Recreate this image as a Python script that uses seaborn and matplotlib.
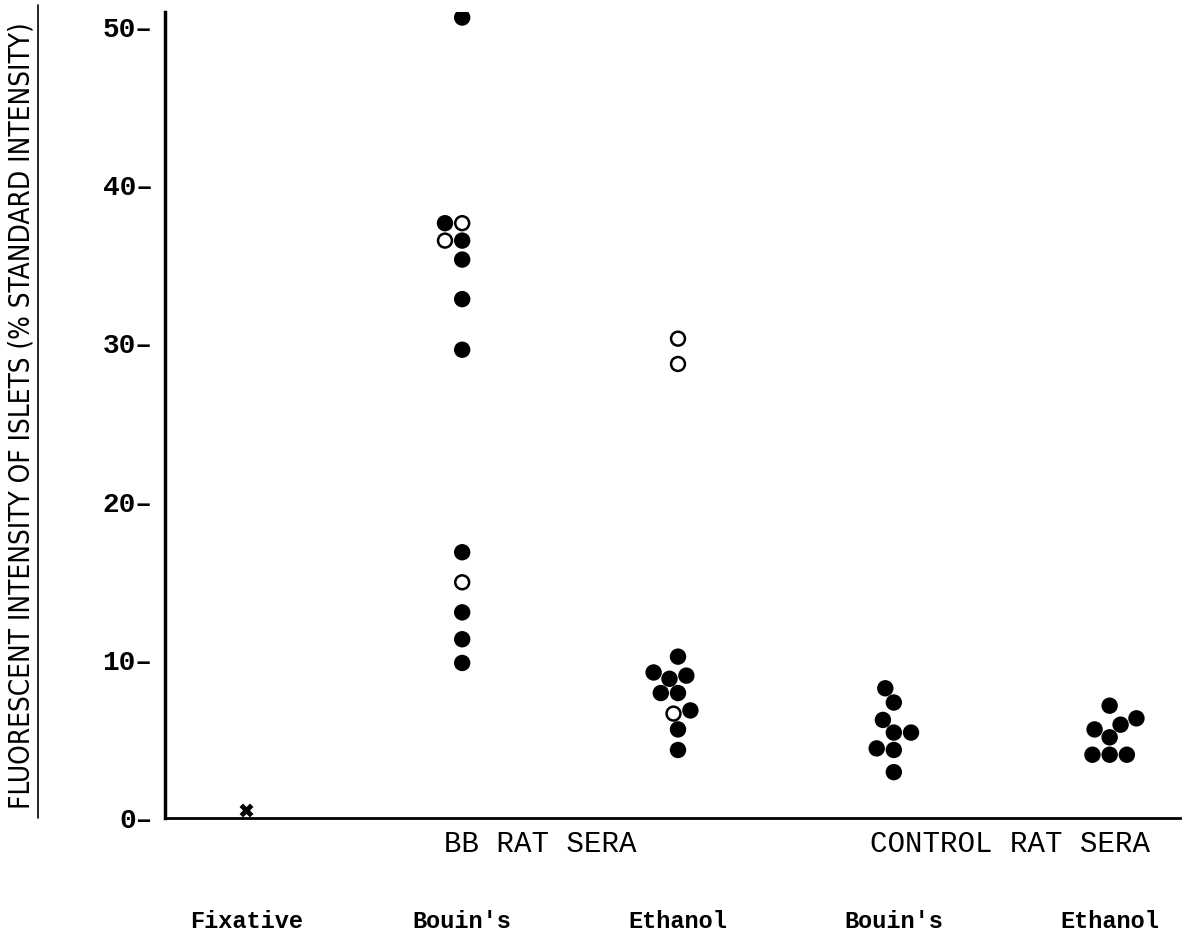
import matplotlib
matplotlib.use("Agg")
import matplotlib.pyplot as plt
from matplotlib.lines import Line2D
import pandas as pd
import seaborn as sns

# categories (unique keys) and what is printed under them
groups = ["Fixative", "BB Bouin's", "BB Ethanol", "Control Bouin's", "Control Ethanol"]
group_labels = ["Fixative", "Bouin's", "Ethanol", "Bouin's", "Ethanol"]
sera_labels = ["BB RAT SERA", "CONTROL RAT SERA"]

# fluorescent intensity (% standard)
fixative_values = [0.5]
bb_bouins_filled = [50.6, 37.6, 36.5, 35.3, 32.8, 29.6, 16.8, 13.0, 11.3, 9.8]
bb_bouins_open = [37.6, 36.5, 14.9]
bb_ethanol_filled = [10.2, 9.2, 9.0, 8.8, 7.9, 7.9, 6.8, 5.6, 4.3]
bb_ethanol_open = [30.3, 28.7, 6.6]
ctrl_bouins_filled = [8.2, 7.3, 6.2, 5.4, 5.4, 4.4, 4.3, 2.9]
ctrl_ethanol_filled = [7.1, 6.3, 5.9, 5.6, 5.1, 4.0, 4.0, 4.0]

y_ticks = [0, 10, 20, 30, 40, 50]

rows = []
for grp, kind, vals in [
    ("BB Bouin's", "filled", bb_bouins_filled),
    ("BB Bouin's", "open", bb_bouins_open),
    ("BB Ethanol", "filled", bb_ethanol_filled),
    ("BB Ethanol", "open", bb_ethanol_open),
    ("Control Bouin's", "filled", ctrl_bouins_filled),
    ("Control Ethanol", "filled", ctrl_ethanol_filled),
]:
    for v in vals:
        rows.append({"group": grp, "kind": kind, "value": v})
points = pd.DataFrame(rows)
fix = pd.DataFrame({"group": ["Fixative"] * len(fixative_values), "value": fixative_values})

sns.set_style("white")
plt.rcParams["font.family"] = ["Liberation Mono", "DejaVu Sans"]
plt.rcParams["text.color"] = "black"
plt.rcParams["xtick.color"] = "black"
plt.rcParams["ytick.color"] = "black"
plt.rcParams["xtick.labelcolor"] = "black"
plt.rcParams["ytick.labelcolor"] = "black"

W, H = 1194, 950
fig = plt.figure(figsize=(W / 100, H / 100), dpi=100)
ax = fig.add_axes([165 / W, 132 / H, (1180 - 165) / W, (818 - 12) / H])

sns.swarmplot(data=points, x="group", y="value", hue="kind", order=groups,
              palette={"filled": "black", "open": "white"}, edgecolor="black",
              linewidth=1.8, size=10, legend=False, ax=ax)
sns.stripplot(data=fix, x="group", y="value", order=groups, marker="X",
              color="black", size=10, jitter=False, ax=ax)

ax.set_xlim(-0.377, 4.326)
ax.set_ylim(0, 50.95)
ax.set_xlabel("")
ax.set_ylabel("")

for s in ["top", "right"]:
    ax.spines[s].set_visible(False)
ax.spines["left"].set_linewidth(2.5)
ax.spines["bottom"].set_linewidth(2.0)
ax.spines["left"].set_color("black")
ax.spines["bottom"].set_color("black")

ax.set_yticks(y_ticks)
ax.set_yticklabels([f"{t}\u2013" for t in y_ticks], fontsize=20, fontweight="bold", color="black")
ax.tick_params(axis="y", length=0, pad=9)
ax.set_xticks(range(len(groups)))
ax.set_xticklabels(group_labels, fontsize=17, fontweight="bold", color="black")
ax.tick_params(axis="x", length=0, pad=66)

# group captions just below the baseline
for xpos, lab in zip([1.36, 3.54], sera_labels):
    ax.annotate(lab, xy=(xpos, 0), xycoords=("data", "axes fraction"),
                xytext=(0, -12), textcoords="offset pixels",
                ha="center", va="top", fontsize=21, color="black")

# rotated axis title, shrunk until it fits the height of the axis
ylab = fig.text(22 / W, 1 - 416 / H,
                "FLUORESCENT INTENSITY OF ISLETS (% STANDARD INTENSITY)",
                rotation=90, ha="center", va="center", fontsize=20,
                family="DejaVu Sans", fontstretch="condensed", color="black")
renderer = fig.canvas.get_renderer()
span = ylab.get_window_extent(renderer).height
if span > 810:
    ylab.set_fontsize(20 * 810 / span)
fig.add_artist(Line2D([38 / W, 38 / W], [1 - 818 / H, 1 - 5 / H],
                      color="black", linewidth=1.2))

fig.savefig("out.png", dpi=100)
